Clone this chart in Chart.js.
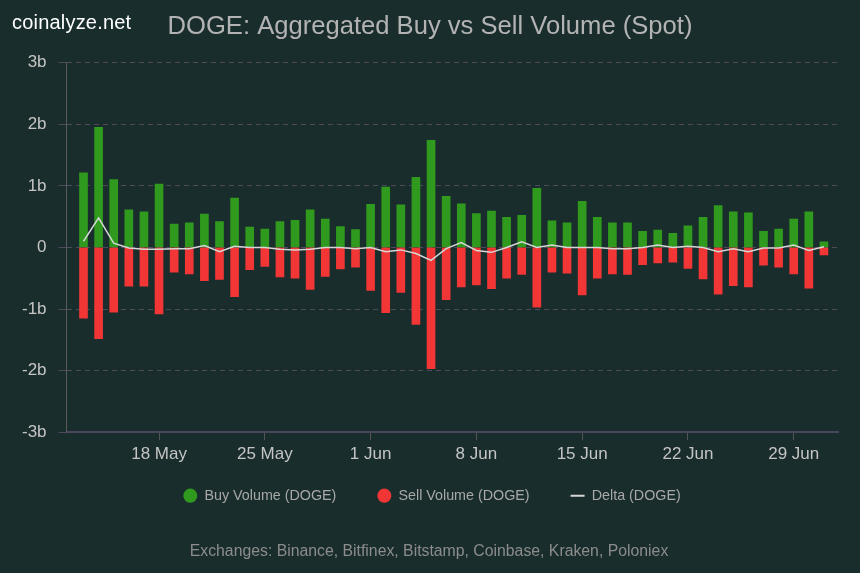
<!DOCTYPE html>
<html>
<head>
<meta charset="utf-8">
<script src="https://cdn.jsdelivr.net/npm/chart.js@4.4.1/dist/chart.umd.min.js"></script>
<style>
  html, body { margin: 0; padding: 0; background: #1a2d2d; }
  #wrap { position: relative; width: 860px; height: 573px; }
  #brand { position: absolute; left: 12px; top: 11px; color: #ffffff; font-family: "Liberation Sans", Arial, sans-serif; font-size: 20px; letter-spacing: 0.2px; }
</style>
</head>
<body>
<div id="wrap">
  <canvas id="c" width="860" height="573"></canvas>
  <div id="brand">coinalyze.net</div>
</div>
<script>
// Categories: one bar per day
const categories = [
  '13 May','14 May','15 May','16 May','17 May','18 May','19 May','20 May','21 May','22 May',
  '23 May','24 May','25 May','26 May','27 May','28 May','29 May','30 May','31 May','1 Jun',
  '2 Jun','3 Jun','4 Jun','5 Jun','6 Jun','7 Jun','8 Jun','9 Jun','10 Jun','11 Jun',
  '12 Jun','13 Jun','14 Jun','15 Jun','16 Jun','17 Jun','18 Jun','19 Jun','20 Jun','21 Jun',
  '22 Jun','23 Jun','24 Jun','25 Jun','26 Jun','27 Jun','28 Jun','29 Jun','30 Jun','1 Jul'
];
// Buy volume (billions DOGE)
const buyVolume = [
  1.21, 1.95, 1.10, 0.61, 0.58, 1.03, 0.38, 0.40, 0.54, 0.42,
  0.80, 0.33, 0.30, 0.42, 0.44, 0.61, 0.46, 0.34, 0.29, 0.70,
  0.98, 0.69, 1.14, 1.74, 0.83, 0.71, 0.55, 0.59, 0.49, 0.52,
  0.96, 0.43, 0.40, 0.75, 0.49, 0.40, 0.40, 0.26, 0.28, 0.23,
  0.35, 0.49, 0.68, 0.58, 0.56, 0.26, 0.30, 0.46, 0.58, 0.09
];
// Sell volume (billions DOGE, plotted negative)
const sellVolume = [
  -1.15, -1.48, -1.05, -0.63, -0.63, -1.08, -0.40, -0.43, -0.54, -0.52,
  -0.80, -0.36, -0.31, -0.48, -0.50, -0.68, -0.47, -0.35, -0.32, -0.70,
  -1.06, -0.73, -1.25, -1.97, -0.85, -0.64, -0.61, -0.67, -0.50, -0.44,
  -0.97, -0.40, -0.42, -0.77, -0.50, -0.43, -0.44, -0.28, -0.25, -0.24,
  -0.34, -0.51, -0.76, -0.62, -0.64, -0.29, -0.32, -0.43, -0.66, -0.12
];
// Delta (billions DOGE)
const deltaVolume = [
  0.10, 0.48, 0.07, -0.01, -0.03, -0.03, -0.02, -0.02, 0.03, -0.07,
  0.02, 0.00, 0.00, -0.03, -0.04, -0.03, 0.00, 0.00, -0.02, 0.00,
  -0.07, -0.04, -0.10, -0.21, -0.02, 0.08, -0.05, -0.08, 0.00, 0.09,
  0.00, 0.04, 0.00, 0.00, 0.00, -0.02, -0.02, 0.00, 0.04, 0.00,
  0.02, 0.00, -0.07, -0.02, -0.07, -0.01, -0.01, 0.04, -0.05, 0.01
];
// X-axis tick labels
const tickLabels = ['18 May','25 May','1 Jun','8 Jun','15 Jun','22 Jun','29 Jun'];
// Y-axis tick values (billions)
const yTicks = [3, 2, 1, 0, -1, -2, -3];

const B = 1e9;
const pts = arr => arr.map((v, i) => ({ x: i, y: v * B }));
const tickIdx = tickLabels.map(l => categories.indexOf(l));

const FONT = '"Liberation Sans", Arial, sans-serif';
const FOOTER = 'Exchanges: Binance, Bitfinex, Bitstamp, Coinbase, Kraken, Poloniex';

// Fine placement of the title / legend / footer blocks
const blockNudge = {
  id: 'blockNudge',
  afterLayout(chart) {
    const move = (box, dx, dy) => {
      if (!box) return;
      box.left += dx; box.right += dx; box.top += dy; box.bottom += dy;
    };
    move(chart.titleBlock, 6, 0);
    move(chart.legend, 8, -21);
    const sub = chart.boxes.find(b => b !== chart.titleBlock && b !== chart.legend &&
      b.options && b.options.text === FOOTER);
    move(sub, 5, 2);
  }
};

new Chart(document.getElementById('c'), {
  type: 'bar',
  data: {
    datasets: [
      {
        label: 'Buy Volume (DOGE)',
        data: pts(buyVolume),
        backgroundColor: '#2f9a1d',
        borderWidth: 0,
        barThickness: 8,
        grouped: false,
        order: 2
      },
      {
        label: 'Sell Volume (DOGE)',
        data: pts(sellVolume),
        backgroundColor: '#f23636',
        borderWidth: 0,
        barThickness: 8,
        grouped: false,
        order: 2
      },
      {
        type: 'line',
        label: 'Delta (DOGE)',
        data: pts(deltaVolume),
        borderColor: '#d6d6d6',
        backgroundColor: '#d6d6d6',
        borderWidth: 1.5,
        pointRadius: 0,
        tension: 0,
        order: 1
      }
    ]
  },
  plugins: [blockNudge],
  options: {
    responsive: false,
    animation: false,
    layout: { padding: { left: 10, right: 22, top: 6, bottom: 7 } },
    scales: {
      x: {
        type: 'linear',
        offset: false,
        min: -1.12,
        max: 49.93,
        afterBuildTicks: s => { s.ticks = tickIdx.map(v => ({ value: v })); },
        ticks: {
          autoSkip: false,
          maxRotation: 0,
          color: '#c4c4c4',
          font: { family: FONT, size: 17 },
          padding: 4,
          callback: (v) => categories[v]
        },
        grid: { offset: false, drawOnChartArea: false, drawTicks: true, tickLength: 8, color: '#555555' },
        border: { display: true, color: '#4b4660', width: 2 }
      },
      y: {
        min: -3 * B,
        max: 3 * B,
        afterBuildTicks: s => { s.ticks = yTicks.map(v => ({ value: v * B })); },
        ticks: {
          color: '#c4c4c4',
          font: { family: FONT, size: 17 },
          padding: 12,
          callback: v => (v === 0 ? '0' : (v / B) + 'b')
        },
        grid: { color: '#4f4a5b', lineWidth: 1, tickLength: 8, tickColor: '#4f4a5b' },
        border: { display: true, color: '#5a5a5a', width: 1, dash: [5, 4] }
      }
    },
    plugins: {
      title: {
        display: true,
        text: 'DOGE: Aggregated Buy vs Sell Volume (Spot)',
        color: '#b3b3b3',
        font: { family: FONT, size: 25.6, weight: 'normal' },
        padding: { top: 6, bottom: 20 }
      },
      subtitle: {
        display: true,
        position: 'bottom',
        text: FOOTER,
        color: '#8c8c8c',
        font: { family: FONT, size: 15.8 },
        padding: { top: 6.2, bottom: 7 }
      },
      legend: {
        position: 'bottom',
        labels: {
          color: '#a8a8a8',
          font: { family: FONT, size: 14.3 },
          usePointStyle: true,
          pointStyleWidth: 14,
          boxHeight: 10,
          padding: 41,
          generateLabels: chart => chart.data.datasets.map((d, i) => ({
            text: d.label,
            fillStyle: d.backgroundColor,
            strokeStyle: i === 2 ? d.borderColor : d.backgroundColor,
            lineWidth: i === 2 ? 2 : 0,
            pointStyle: i === 2 ? 'line' : 'circle',
            fontColor: '#a8a8a8',
            datasetIndex: i,
            hidden: false
          }))
        }
      },
      tooltip: { enabled: false }
    }
  }
});
</script>
</body>
</html>
